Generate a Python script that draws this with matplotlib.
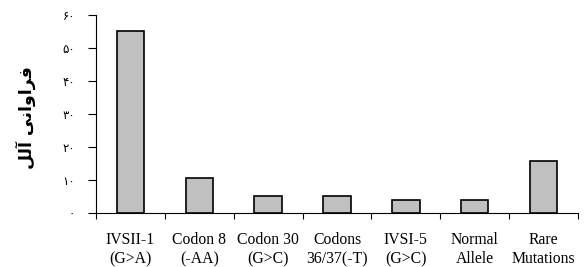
import matplotlib.pyplot as plt
import numpy as np

# Allele frequency per mutation
categories = ['IVSII-1\n(G>A)', 'Codon 8\n(-AA)', 'Codon 30\n(G>C)', 'Codons\n36/37(-T)',
              'IVSI-5\n(G>C)', 'Normal\nAllele', 'Rare\nMutations']
values = [55, 10.6, 5, 5, 4, 4, 15.8]
y_ticks = [0, 10, 20, 30, 40, 50, 60]
y_tick_labels = ['\u06f0', '\u06f1\u06f0', '\u06f2\u06f0', '\u06f3\u06f0',
                 '\u06f4\u06f0', '\u06f5\u06f0', '\u06f6\u06f0']
# "فراوانی آلل" written in shaped presentation forms, visual order
y_label = '\ufede\ufedf\ufe81 \ufef0\ufee7\ufe8d\ufeed\ufe8d\ufeae\ufed3'

fig = plt.figure(figsize=(5.84, 2.67), dpi=100)
ax = fig.add_axes([96 / 584, 54.3 / 267, 482 / 584, 198 / 267])

x = np.arange(len(categories)) + 0.5
ax.bar(x, values, width=0.4, color='#c0c0c0', edgecolor='black', linewidth=1.2)

ax.set_xlim(0, len(categories))
ax.set_ylim(0, 60)

# boundary ticks on x, labels centred between them
ax.set_xticks(np.arange(len(categories) + 1))
ax.set_xticklabels([])
ax.set_xticks(x, minor=True)
ax.set_xticklabels(categories, minor=True, family='Liberation Serif', fontsize=11.3,
                   linespacing=1.25)
ax.tick_params(axis='x', which='major', length=4, direction='out')
ax.tick_params(axis='x', which='minor', length=0, pad=14)

ax.set_yticks(y_ticks)
ax.set_yticklabels(y_tick_labels, family='DejaVu Sans', fontsize=8.5)
ax.tick_params(axis='y', length=6, pad=9)

ax.set_ylabel(y_label, family='DejaVu Sans', fontweight='bold', fontsize=12.5)
ax.yaxis.set_label_coords(-0.125, 0.48)

ax.spines['top'].set_visible(False)
ax.spines['right'].set_visible(False)

plt.savefig('out.png', dpi=100)
